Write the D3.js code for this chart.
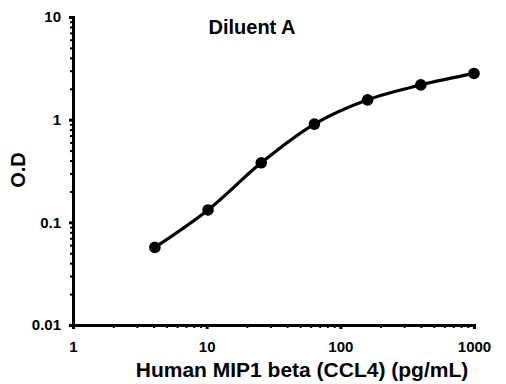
<!DOCTYPE html>
<html>
<head>
<meta charset="utf-8">
<script src="https://cdn.jsdelivr.net/npm/d3@7"></script>
<style>
  body { margin: 0; background: #fff; }
  text { font-family: "Liberation Sans", Arial, sans-serif; font-weight: bold; fill: #000; }
</style>
</head>
<body>
<svg id="chart" width="506" height="384"></svg>
<script>
// concentration (pg/mL) and optical density
var concentrations = [4.096, 10.24, 25.6, 64, 160, 400, 1000]
var odValues = [0.057, 0.132, 0.38, 0.905, 1.56, 2.18, 2.82]
var xTickLabels = [1, 10, 100, 1000]
var yTickLabels = [0.01, 0.1, 1, 10]

var svg = d3.select("#chart")
var margin = {top: 17, right: 32, bottom: 59, left: 73}
var width = 506 - margin.left - margin.right
var height = 384 - margin.top - margin.bottom

var g = svg.append("g").attr("transform", `translate(${margin.left},${margin.top})`)

var x = d3.scaleLog().domain([1, 1000]).range([0, width])
var y = d3.scaleLog().domain([0.01, 10]).range([height, 0])

// minor ticks
var minorX = []
var minorY = []
for (var d = 1; d < 1000; d *= 10) {
    for (var k = 2; k <= 9; k++) minorX.push(d * k)
}
for (var d = 0.01; d < 9; d *= 10) {
    for (var k = 2; k <= 9; k++) minorY.push(d * k)
}

g.append("g")
 .attr("transform", `translate(0,${height})`)
 .call(d3.axisBottom(x).tickValues(minorX).tickSize(3).tickFormat(""))
 .call(a => a.select(".domain").remove())
 .selectAll("line").attr("stroke-width", 2)

g.append("g")
 .call(d3.axisLeft(y).tickValues(minorY).tickSize(3).tickFormat(""))
 .call(a => a.select(".domain").remove())
 .selectAll("line").attr("stroke-width", 2)

// major axes
var xAxis = g.append("g")
 .attr("transform", `translate(0,${height})`)
 .call(d3.axisBottom(x).tickValues(xTickLabels).tickSize(4).tickPadding(12).tickFormat(d3.format("d")))
xAxis.select(".domain").attr("stroke-width", 3)
xAxis.selectAll("line").attr("stroke-width", 3)
xAxis.selectAll("text").attr("font-size", 15)

var yAxis = g.append("g")
 .call(d3.axisLeft(y).tickValues(yTickLabels).tickSize(4).tickPadding(8).tickFormat(d => d3.format("")(d)))
yAxis.select(".domain").attr("stroke-width", 3)
yAxis.selectAll("line").attr("stroke-width", 3)
yAxis.selectAll("text").attr("font-size", 15)

// curve
var data = concentrations.map((c, i) => ({c: c, od: odValues[i]}))
g.append("path")
 .datum(data)
 .attr("fill", "none")
 .attr("stroke", "#000")
 .attr("stroke-width", 3.2)
 .attr("d", d3.line().x(d => x(d.c)).y(d => y(d.od)).curve(d3.curveCatmullRom))

g.selectAll(".dot")
 .data(data)
 .join("circle")
 .attr("cx", d => x(d.c))
 .attr("cy", d => y(d.od))
 .attr("r", 5.8)
 .attr("fill", "#000")

// titles
svg.append("text")
   .attr("x", 252)
   .attr("y", 34)
   .attr("text-anchor", "middle")
   .attr("font-size", 20)
   .text("Diluent A")

svg.append("text")
   .attr("x", 302)
   .attr("y", 377)
   .attr("text-anchor", "middle")
   .attr("font-size", 21)
   .text("Human MIP1 beta (CCL4) (pg/mL)")

svg.append("text")
   .attr("transform", "translate(25,170) rotate(-90)")
   .attr("text-anchor", "middle")
   .attr("font-size", 20)
   .text("O.D")
</script>
</body>
</html>
